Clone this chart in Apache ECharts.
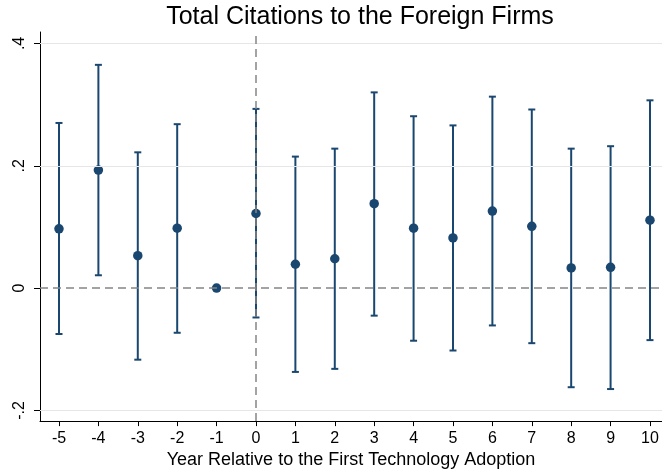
<!DOCTYPE html>
<html>
<head>
<meta charset="utf-8">
<script src="https://cdn.jsdelivr.net/npm/echarts@6/dist/echarts.min.js"></script>
<style>
html,body{margin:0;padding:0;background:#fff;}
#chart{width:662px;height:474px;}
</style>
</head>
<body>
<div id="chart"></div>
<script>
var years = [-5, -4, -3, -2, -1, 0, 1, 2, 3, 4, 5, 6, 7, 8, 9, 10];
var coef  = [0.097, 0.193, 0.053, 0.098, 0, 0.122, 0.039, 0.048, 0.138, 0.098, 0.082, 0.126, 0.101, 0.033, 0.034, 0.111];
var lower = [-0.075, 0.021, -0.117, -0.073, null, -0.048, -0.137, -0.132, -0.045, -0.086, -0.102, -0.061, -0.090, -0.162, -0.165, -0.085];
var upper = [0.270, 0.365, 0.222, 0.268, null, 0.293, 0.215, 0.228, 0.320, 0.281, 0.266, 0.313, 0.292, 0.228, 0.232, 0.307];
var yTicks = [-0.2, 0, 0.2, 0.4];
var yTickLabels = ['-.2', '0', '.2', '.4'];
var xTicks = years.slice();
var titleText = 'Total Citations to the Foreign Firms';
var xAxisTitle = 'Year Relative to the First Technology Adoption';

var navy = '#1a476f';
var font = "'Liberation Sans', Arial, Helvetica, sans-serif";

var pointData = years.map(function (y, i) { return [y, coef[i]]; });
var ciData = [];
years.forEach(function (y, i) {
  if (lower[i] !== null && upper[i] !== null) ciData.push([y, lower[i], upper[i]]);
});

var labelMap = {};
yTicks.forEach(function (v, i) { labelMap[v.toFixed(4)] = yTickLabels[i]; });

var chart = echarts.init(document.getElementById('chart'), null, {renderer: 'canvas'});
chart.setOption({
  animation: false,
  backgroundColor: '#ffffff',
  title: {
    text: titleText,
    left: 355, textAlign: 'center', top: 0,
    textStyle: {fontFamily: font, fontSize: 25, fontWeight: 'normal', color: '#000'}
  },
  grid: {left: 40, right: 0, top: 32, bottom: 51, containLabel: false},
  xAxis: {
    type: 'value', min: -5.482, max: 10.305,
    name: xAxisTitle, nameLocation: 'middle', nameGap: 28,
    nameTextStyle: {fontFamily: font, fontSize: 18, color: '#000'},
    axisLine: {show: true, onZero: false, lineStyle: {color: '#000', width: 1}},
    axisTick: {show: true, length: 5, customValues: xTicks, lineStyle: {color: '#000'}},
    axisLabel: {customValues: xTicks, margin: 9, fontFamily: font, fontSize: 16, color: '#000'},
    splitLine: {show: false}
  },
  yAxis: {
    type: 'value', min: -0.2174, max: 0.4187,
    axisLine: {show: true, onZero: false, lineStyle: {color: '#000', width: 1}},
    axisTick: {show: true, length: 6, customValues: yTicks, lineStyle: {color: '#000'}},
    axisLabel: {
      customValues: yTicks, rotate: 90, margin: 12,
      fontFamily: font, fontSize: 16, color: '#000',
      formatter: function (v) { return labelMap[Number(v).toFixed(4)] || ''; }
    },
    splitLine: {show: false}
  },
  series: [
    {
      type: 'scatter', data: [], z: 1, silent: true,
      markLine: {
        silent: true, symbol: ['none', 'none'], label: {show: false}, animation: false,
        data: [
          {yAxis: 0.4, lineStyle: {color: '#e6e6e6', width: 1, type: 'solid'}},
          {yAxis: 0.2, lineStyle: {color: '#e6e6e6', width: 1, type: 'solid'}},
          {yAxis: -0.2, lineStyle: {color: '#e6e6e6', width: 1, type: 'solid'}},
          {yAxis: 0, lineStyle: {color: '#858585', width: 1.5, type: [8, 5]}},
          {xAxis: 0, lineStyle: {color: '#858585', width: 1.5, type: [8, 5]}}
        ]
      }
    },
    {
      type: 'custom', z: 2, silent: true,
      data: ciData,
      encode: {x: 0, y: [1, 2]},
      renderItem: function (params, api) {
        var x = api.value(0);
        var lo = api.coord([x, api.value(1)]);
        var hi = api.coord([x, api.value(2)]);
        var hw = 3.5;
        var st = {stroke: navy, lineWidth: 2};
        return {
          type: 'group',
          children: [
            {type: 'line', shape: {x1: lo[0], y1: lo[1], x2: hi[0], y2: hi[1]}, style: st},
            {type: 'line', shape: {x1: lo[0] - hw, y1: lo[1], x2: lo[0] + hw, y2: lo[1]}, style: st},
            {type: 'line', shape: {x1: hi[0] - hw, y1: hi[1], x2: hi[0] + hw, y2: hi[1]}, style: st}
          ]
        };
      }
    },
    {
      type: 'scatter', z: 3, silent: true,
      data: pointData, symbol: 'circle', symbolSize: 9.5,
      itemStyle: {color: navy, opacity: 1}
    }
  ]
});
</script>
</body>
</html>
